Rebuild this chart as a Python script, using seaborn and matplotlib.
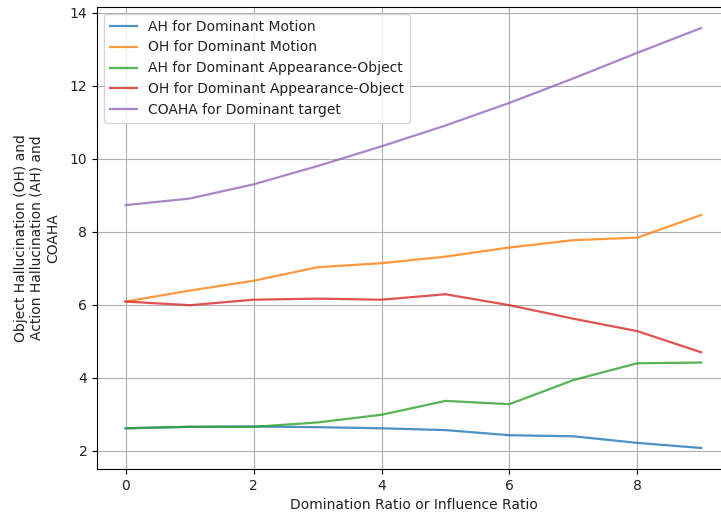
import numpy as np
import pandas as pd
import matplotlib
matplotlib.use("Agg")
import matplotlib.pyplot as plt
import seaborn as sns

# values
ratio = list(range(10))
ah_motion = [2.62, 2.66, 2.67, 2.65, 2.62, 2.57, 2.43, 2.40, 2.22, 2.08]
oh_motion = [6.09, 6.39, 6.66, 7.03, 7.14, 7.32, 7.57, 7.77, 7.84, 8.46]
ah_appearance = [2.62, 2.66, 2.66, 2.78, 2.99, 3.37, 3.28, 3.94, 4.40, 4.42]
oh_appearance = [6.09, 5.99, 6.14, 6.17, 6.14, 6.29, 5.99, 5.62, 5.28, 4.70]
coaha = [8.73, 8.91, 9.30, 9.80, 10.34, 10.91, 11.53, 12.20, 12.90, 13.58]

labels = [
    "AH for Dominant Motion",
    "OH for Dominant Motion",
    "AH for Dominant Appearance-Object",
    "OH for Dominant Appearance-Object",
    "COAHA for Dominant target",
]
series = [ah_motion, oh_motion, ah_appearance, oh_appearance, coaha]

fig = plt.figure(figsize=(7.21, 5.13), dpi=100)
ax = fig.add_axes([97 / 721, 44 / 513, 633 / 721, 462 / 513])

colors = sns.color_palette("tab10", len(series))
for vals, name, c in zip(series, labels, colors):
    sns.lineplot(x=ratio, y=vals, label=name, color=c, linewidth=1.6,
                 alpha=0.8, ax=ax)

ax.grid(True, color="#b0b0b0", linewidth=0.8)
ax.set_xlabel("Domination Ratio or Influence Ratio", color="#222222")
ax.set_ylabel("Object Hallucination (OH) and\nAction Hallucination (AH) and\nCOAHA",
              color="#222222", labelpad=7)
ax.set_yticks([2, 4, 6, 8, 10, 12, 14])
ax.tick_params(labelcolor="#222222")
leg = ax.legend(loc="upper left")
for t in leg.get_texts():
    t.set_color("#222222")

fig.savefig("out.png", dpi=100)
